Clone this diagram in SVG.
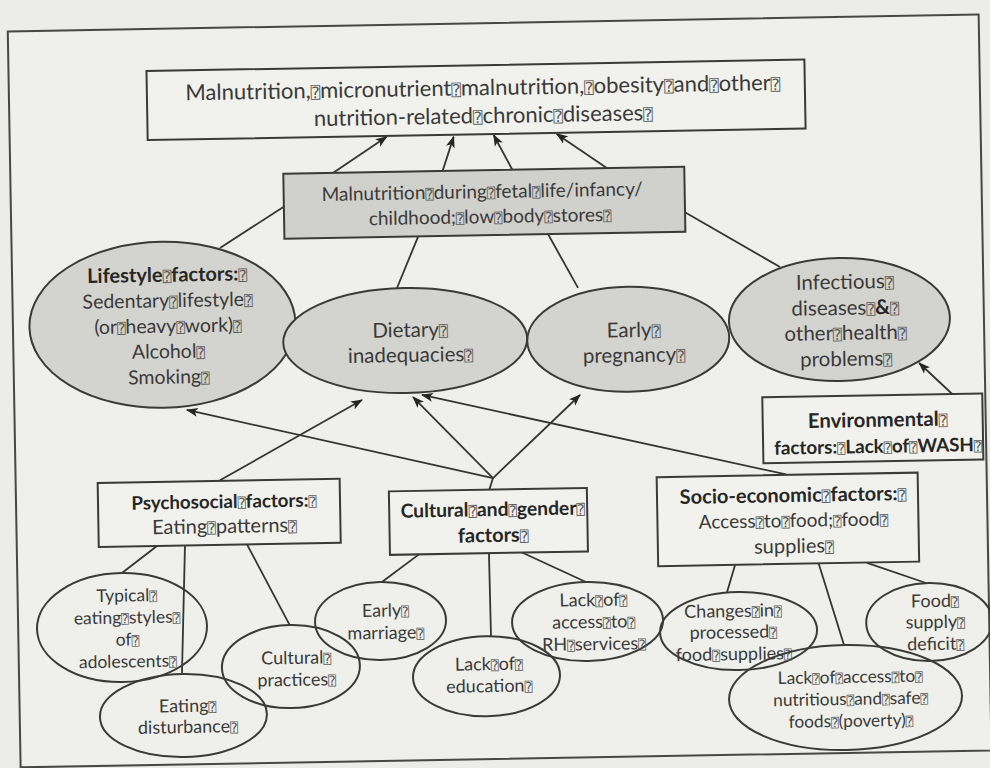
<svg xmlns="http://www.w3.org/2000/svg" width="990" height="768" viewBox="0 0 990 768">
<style>
.t{font-family:Lato,"Liberation Sans","DejaVu Sans",sans-serif;fill:#3a3a38;text-anchor:middle;font-size:20px}
.s{font-size:18px}
.b{font-weight:bold;fill:#262624}
.q{font-family:"DejaVu Sans Mono","DejaVu Sans",monospace;font-size:0.72em;font-weight:normal;fill:#5a5a58}
.box{fill:#f1f1ee;stroke:#3a3a38;stroke-width:2}
.gbox{fill:#d0d0cd;stroke:#3a3a38;stroke-width:2}
.gel{fill:#d3d3d0;stroke:#3a3a38;stroke-width:2}
.wel{fill:none;stroke:#3a3a38;stroke-width:2}
.c line{stroke:#353533;stroke-width:1.8;fill:none}
.a{marker-end:url(#ah)}
</style>
<defs>
<marker id="ah" viewBox="0 0 12 10" refX="11" refY="5" markerWidth="12" markerHeight="10" markerUnits="userSpaceOnUse" orient="auto">
<path d="M0,0.5 L12,5 L0,9.5 L3,5 z" fill="#252523"/>
</marker>
</defs>
<rect width="990" height="768" fill="#ecece8"/>
<g transform="rotate(-1 495 384)">
<rect id="frame" x="14" y="23" width="971" height="736" fill="#efefeb" stroke="#474745" stroke-width="2"/>

<g class="c" id="connectors">
<line class="a" x1="337" y1="170" x2="391" y2="135"/>
<line class="a" x1="446" y1="171" x2="458" y2="136"/>
<line class="a" x1="516" y1="170" x2="498" y2="135"/>
<line class="a" x1="612" y1="171" x2="561" y2="135"/>
<line class="a" x1="953" y1="403" x2="919.4" y2="370.4"/>
<line class="a" x1="218.3" y1="475.5" x2="361.7" y2="397.7"/>
<line class="a" x1="491.4" y1="478" x2="186.5" y2="404.6"/>
<line class="a" x1="491.4" y1="478" x2="412.8" y2="395.6"/>
<line class="a" x1="491.4" y1="478" x2="579.8" y2="396.5"/>
<line class="a" x1="784.4" y1="479.5" x2="421.8" y2="393.7"/>
<line x1="487.5" y1="489.5" x2="491.4" y2="478"/>
<line x1="286.5" y1="203.3" x2="222.4" y2="243.2"/>
<line x1="420.6" y1="235.5" x2="398.7" y2="286.3"/>
<line x1="550.6" y1="235" x2="579.7" y2="289.4"/>
<line x1="687.5" y1="215.3" x2="782" y2="272"/>
<line x1="154.2" y1="540" x2="118.7" y2="566.5"/>
<line x1="182.2" y1="540" x2="176.9" y2="669.5"/>
<line x1="244.2" y1="540" x2="285.8" y2="622"/>
<line x1="416" y1="553" x2="378.5" y2="580"/>
<line x1="486" y1="553" x2="486.6" y2="636.5"/>
<line x1="519.1" y1="553" x2="582.5" y2="583.6"/>
<line x1="731.8" y1="569.3" x2="723.4" y2="596"/>
<line x1="813" y1="560.6" x2="839.4" y2="651.1"/>
<line x1="863.9" y1="569.3" x2="922.5" y2="590.5"/>
</g>

<g id="n-outcome">
<rect class="box" x="152" y="65" width="658" height="69"/>
<text class="t" style="font-size:22px" x="488" y="95">Malnutrition,<tspan class="q">⍰</tspan>micronutrient<tspan class="q">⍰</tspan>malnutrition,<tspan class="q">⍰</tspan>obesity<tspan class="q">⍰</tspan>and<tspan class="q">⍰</tspan>other<tspan class="q">⍰</tspan></text>
<text class="t" style="font-size:22px" x="488" y="123">nutrition-related<tspan class="q">⍰</tspan>chronic<tspan class="q">⍰</tspan>diseases<tspan class="q">⍰</tspan></text>
</g>
<g id="n-early-malnutrition">
<rect class="gbox" x="287" y="170" width="401" height="65"/>
<text class="t" style="font-size:19px" x="485.5" y="198">Malnutrition<tspan class="q">⍰</tspan>during<tspan class="q">⍰</tspan>fetal<tspan class="q">⍰</tspan>life/infancy/</text>
<text class="t" style="font-size:19px" x="493" y="223">childhood;<tspan class="q">⍰</tspan>low<tspan class="q">⍰</tspan>body<tspan class="q">⍰</tspan>stores<tspan class="q">⍰</tspan></text>
</g>
<g id="n-lifestyle">
<ellipse class="gel" cx="163.5" cy="319" rx="133" ry="83"/>
<text class="t b" x="169" y="276">Lifestyle<tspan class="q">⍰</tspan>factors:<tspan class="q">⍰</tspan></text>
<text class="t" style="font-size:19.5px" x="169" y="301.5">Sedentary<tspan class="q">⍰</tspan>lifestyle<tspan class="q">⍰</tspan></text>
<text class="t" style="font-size:19.5px" x="169" y="327">(or<tspan class="q">⍰</tspan>heavy<tspan class="q">⍰</tspan>work)<tspan class="q">⍰</tspan></text>
<text class="t" style="font-size:19.5px" x="169" y="352.5">Alcohol<tspan class="q">⍰</tspan></text>
<text class="t" style="font-size:19.5px" x="169" y="378">Smoking<tspan class="q">⍰</tspan></text>
</g>
<g id="n-dietary">
<ellipse class="gel" cx="406" cy="339" rx="122" ry="52.5"/>
<text class="t" style="font-size:20.5px" x="411" y="335.5">Dietary<tspan class="q">⍰</tspan></text>
<text class="t" style="font-size:20.5px" x="411" y="360.5">inadequacies<tspan class="q">⍰</tspan></text>
</g>
<g id="n-pregnancy">
<ellipse class="gel" cx="629" cy="341.5" rx="101" ry="52.5"/>
<text class="t" style="font-size:20.5px" x="634.5" y="339.5">Early<tspan class="q">⍰</tspan></text>
<text class="t" style="font-size:20.5px" x="634.5" y="364.5">pregnancy<tspan class="q">⍰</tspan></text>
</g>
<g id="n-infectious">
<ellipse class="gel" cx="840.5" cy="325.5" rx="110.5" ry="61.5"/>
<text class="t" style="font-size:20.5px" x="846.5" y="295">Infectious<tspan class="q">⍰</tspan></text>
<text class="t" style="font-size:20.5px" x="846.5" y="321">diseases<tspan class="q">⍰</tspan><tspan class="b">&amp;</tspan><tspan class="q">⍰</tspan></text>
<text class="t" style="font-size:20.5px" x="846.5" y="346">other<tspan class="q">⍰</tspan>health<tspan class="q">⍰</tspan></text>
<text class="t" style="font-size:20.5px" x="846.5" y="372">problems<tspan class="q">⍰</tspan></text>
</g>
<g id="n-environmental">
<rect class="box" x="762" y="402" width="220" height="66"/>
<text class="t b" style="font-size:20.3px" x="877" y="433.5">Environmental<tspan class="q">⍰</tspan></text>
<text class="t b" style="font-size:18.8px" x="877" y="459.5">factors:<tspan class="q">⍰</tspan>Lack<tspan class="q">⍰</tspan>of<tspan class="q">⍰</tspan>WASH<tspan class="q">⍰</tspan></text>
</g>
<g id="n-psychosocial">
<rect class="box" x="96" y="476" width="242" height="64"/>
<text class="t b" style="font-size:18.7px" x="222" y="503.3">Psychosocial<tspan class="q">⍰</tspan>factors:<tspan class="q">⍰</tspan></text>
<text class="t" x="222" y="528.3">Eating<tspan class="q">⍰</tspan>patterns<tspan class="q">⍰</tspan></text>
</g>
<g id="n-cultural">
<rect class="box" x="387" y="489.5" width="198" height="63.5"/>
<text class="t b" style="font-size:19.3px" x="490.5" y="516">Cultural<tspan class="q">⍰</tspan>and<tspan class="q">⍰</tspan>gender<tspan class="q">⍰</tspan></text>
<text class="t b" x="490.5" y="542">factors<tspan class="q">⍰</tspan></text>
</g>
<g id="n-socioeconomic">
<rect class="box" x="655" y="480" width="261" height="89"/>
<text class="t b" x="791" y="507.2">Socio-economic<tspan class="q">⍰</tspan>factors:<tspan class="q">⍰</tspan></text>
<text class="t" style="font-size:19px" x="791" y="532.2">Access<tspan class="q">⍰</tspan>to<tspan class="q">⍰</tspan>food;<tspan class="q">⍰</tspan>food<tspan class="q">⍰</tspan></text>
<text class="t" x="791" y="558.2">supplies<tspan class="q">⍰</tspan></text>
</g>
<g id="n-typical">
<ellipse class="wel" cx="117.8" cy="621" rx="85" ry="54.5"/>
<text class="t s" style="font-size:17.5px" x="123" y="595">Typical<tspan class="q">⍰</tspan></text>
<text class="t s" style="font-size:17.5px" x="123" y="617">eating<tspan class="q">⍰</tspan>styles<tspan class="q">⍰</tspan></text>
<text class="t s" style="font-size:17.5px" x="123" y="639">of<tspan class="q">⍰</tspan></text>
<text class="t s" style="font-size:17.5px" x="123" y="661">adolescents<tspan class="q">⍰</tspan></text>
</g>
<g id="n-eating-disturbance">
<ellipse class="wel" cx="177.7" cy="710" rx="83.5" ry="41.5"/>
<text class="t s" x="182" y="706.6">Eating<tspan class="q">⍰</tspan></text>
<text class="t s" x="182" y="727.6">disturbance<tspan class="q">⍰</tspan></text>
</g>
<g id="n-cultural-practices">
<ellipse class="wel" cx="286" cy="663" rx="69" ry="41.5"/>
<text class="t s" x="291.5" y="660.4">Cultural<tspan class="q">⍰</tspan></text>
<text class="t s" x="291.5" y="682.4">practices<tspan class="q">⍰</tspan></text>
</g>
<g id="n-early-marriage">
<ellipse class="wel" cx="376.4" cy="619" rx="65.5" ry="39"/>
<text class="t s" x="381.5" y="614.7">Early<tspan class="q">⍰</tspan></text>
<text class="t s" x="381.5" y="637">marriage<tspan class="q">⍰</tspan></text>
</g>
<g id="n-education">
<ellipse class="wel" cx="481.4" cy="676" rx="73.5" ry="40"/>
<text class="t s" x="484" y="670">Lack<tspan class="q">⍰</tspan>of<tspan class="q">⍰</tspan></text>
<text class="t s" x="484" y="692">education<tspan class="q">⍰</tspan></text>
</g>
<g id="n-rh">
<ellipse class="wel" cx="583.4" cy="623" rx="75.5" ry="39.5"/>
<text class="t s" x="589.5" y="607.7">Lack<tspan class="q">⍰</tspan>of<tspan class="q">⍰</tspan></text>
<text class="t s" x="589.5" y="629.7">access<tspan class="q">⍰</tspan>to<tspan class="q">⍰</tspan></text>
<text class="t s" x="589.5" y="651.8">RH<tspan class="q">⍰</tspan>services<tspan class="q">⍰</tspan></text>
</g>
<g id="n-processed">
<ellipse class="wel" cx="734.2" cy="635.3" rx="78.5" ry="39"/>
<text class="t s" x="729" y="621.2">Changes<tspan class="q">⍰</tspan>in<tspan class="q">⍰</tspan></text>
<text class="t s" x="729" y="642.3">processed<tspan class="q">⍰</tspan></text>
<text class="t s" x="729" y="664.3">food<tspan class="q">⍰</tspan>supplies<tspan class="q">⍰</tspan></text>
</g>
<g id="n-food-deficit">
<ellipse class="wel" cx="925" cy="629.6" rx="63" ry="39"/>
<text class="t s" x="931" y="614.7">Food<tspan class="q">⍰</tspan></text>
<text class="t s" x="931" y="635.7">supply<tspan class="q">⍰</tspan></text>
<text class="t s" x="931" y="657.7">deficit<tspan class="q">⍰</tspan></text>
</g>
<g id="n-poverty">
<ellipse class="wel" cx="840" cy="703.6" rx="116.5" ry="52.5"/>
<text class="t s" style="font-size:17.3px" x="845" y="689">Lack<tspan class="q">⍰</tspan>of<tspan class="q">⍰</tspan>access<tspan class="q">⍰</tspan>to<tspan class="q">⍰</tspan></text>
<text class="t s" style="font-size:17.3px" x="845" y="711">nutritious<tspan class="q">⍰</tspan>and<tspan class="q">⍰</tspan>safe<tspan class="q">⍰</tspan></text>
<text class="t s" style="font-size:17.3px" x="845" y="733">foods<tspan class="q">⍰</tspan>(poverty)<tspan class="q">⍰</tspan></text>
</g>
</g>
</svg>
